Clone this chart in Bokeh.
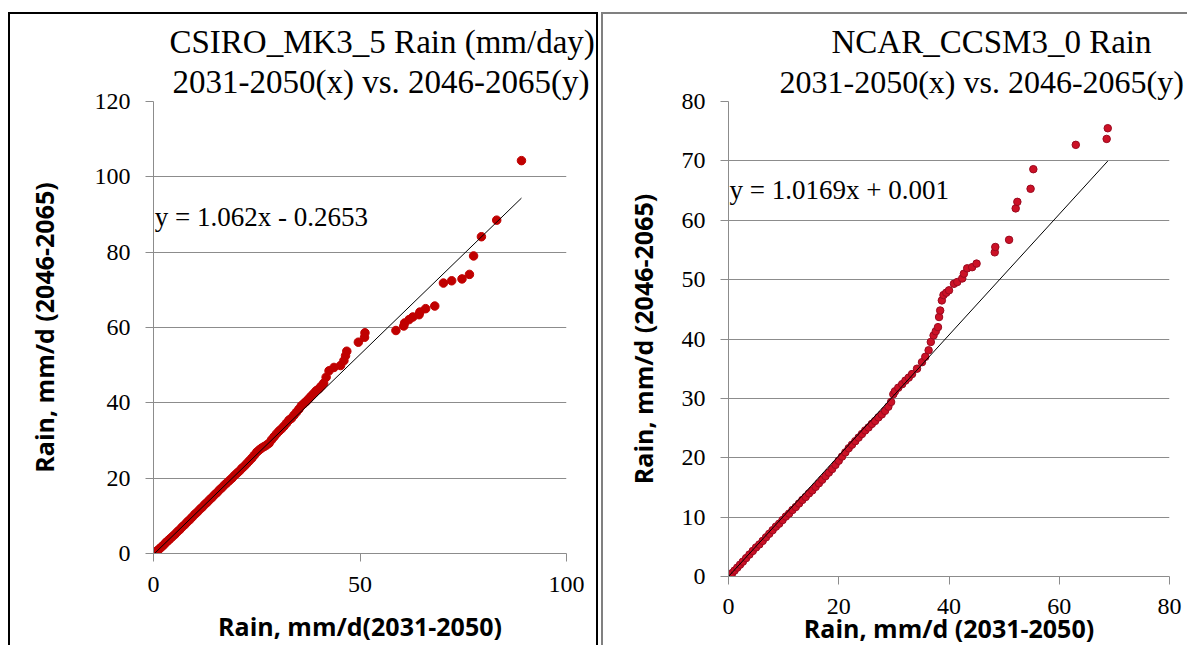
from bokeh.plotting import figure
from bokeh.layouts import row
from bokeh.models import Range1d, Label, Title, FixedTicker
from bokeh.embed import file_html
from bokeh.resources import INLINE

# --- CSIRO_MK3_5: sorted daily rain, 2031-2050 (x) vs 2046-2065 (y), mm/day ---
csiro_x = [0.0, 0.3, 0.6, 1.0, 1.5, 2.0, 2.5, 3.0, 3.5, 4.0, 4.6, 5.2, 5.8, 6.4, 7.0,
           7.6, 8.2, 8.8, 9.4, 10.0, 10.6, 11.2, 11.8, 12.4, 13.0, 13.6, 14.2, 14.8,
           15.4, 16.0, 16.6, 17.2, 17.8, 18.4, 19.0, 19.6, 20.2, 20.8, 21.4, 22.0,
           22.6, 23.2, 23.8, 24.4, 25.0, 25.6, 26.2, 26.8, 27.4, 28.0, 28.6, 29.2,
           29.8, 30.4, 31.0, 31.6, 32.2, 32.8, 33.4, 34.0, 34.6, 35.2, 35.8, 36.4,
           37.0, 37.6, 38.2, 38.8, 39.4, 40.0, 40.6, 41.2, 41.8, 42.5, 43.7, 45.3,
           46.1, 46.5, 46.8, 49.6, 51.1, 51.2, 58.7, 60.6, 60.8, 61.9, 62.8, 64.3,
           64.5, 65.9, 68.1, 70.2, 72.2, 74.7, 76.5, 77.5, 79.4, 83.1, 89.1]
csiro_y = [0.0, 0.2, 0.5, 0.8, 1.3, 1.8, 2.3, 2.9, 3.4, 3.9, 4.5, 5.1, 5.8, 6.4, 7.1,
           7.7, 8.4, 9.0, 9.7, 10.4, 11.0, 11.7, 12.3, 13.0, 13.6, 14.3, 14.9, 15.6,
           16.2, 16.9, 17.5, 18.2, 18.8, 19.4, 20.0, 20.7, 21.3, 21.9, 22.6, 23.2,
           23.9, 24.6, 25.3, 26.1, 26.9, 27.5, 28.0, 28.4, 28.8, 29.3, 30.2, 31.0,
           31.8, 32.5, 33.1, 33.8, 34.6, 35.4, 35.9, 36.7, 37.5, 38.3, 39.2, 39.8,
           40.4, 41.1, 41.8, 42.5, 43.2, 43.7, 44.4, 45.2, 46.8, 48.5, 49.4, 49.9,
           51.2, 52.5, 53.7, 56.1, 57.4, 58.6, 59.2, 60.4, 61.2, 62.1, 62.8, 63.4,
           64.1, 65.0, 65.7, 71.8, 72.4, 72.9, 74.1, 79.0, 84.1, 88.5, 104.3]
csiro_slope, csiro_icpt = 1.062, -0.2653

# --- NCAR_CCSM3_0: sorted daily rain, 2031-2050 (x) vs 2046-2065 (y), mm/day ---
ncar_x = [0.0, 0.3, 0.7, 1.1, 1.6, 2.1, 2.6, 3.2, 3.8, 4.4, 5.0, 5.6, 6.2, 6.8, 7.4,
          8.0, 8.6, 9.2, 9.8, 10.4, 11.0, 11.6, 12.2, 12.8, 13.4, 14.0, 14.6, 15.2,
          15.8, 16.4, 17.0, 17.6, 18.2, 18.8, 19.4, 20.0, 20.6, 21.2, 21.8, 22.4,
          23.0, 23.6, 24.2, 24.8, 25.4, 26.0, 26.6, 27.2, 27.8, 28.4, 29.0, 29.5,
          29.9, 30.2, 30.8, 31.5, 32.1, 32.7, 33.3, 34.2, 35.1, 35.7, 36.3, 36.7,
          37.2, 37.6, 38.0, 38.2, 38.4, 38.7, 39.0, 39.5, 40.0, 40.9, 41.5, 42.4,
          42.7, 43.3, 44.2, 45.0, 48.3, 48.4, 50.9, 52.1, 52.4, 54.8, 55.3, 63.0,
          68.6, 68.8]
ncar_y = [0.0, 0.3, 0.6, 1.0, 1.5, 2.0, 2.5, 3.1, 3.7, 4.3, 4.9, 5.4, 6.0, 6.6, 7.2,
          7.8, 8.4, 8.9, 9.5, 10.1, 10.6, 11.2, 11.7, 12.3, 12.9, 13.4, 14.0, 14.5,
          15.1, 15.7, 16.3, 16.9, 17.5, 18.1, 18.8, 19.5, 20.2, 20.9, 21.6, 22.2,
          22.8, 23.4, 24.0, 24.6, 25.1, 25.7, 26.2, 26.8, 27.3, 27.9, 28.6, 29.4,
          30.7, 31.2, 31.8, 32.4, 33.0, 33.5, 34.1, 35.0, 36.1, 37.0, 38.1, 39.5,
          40.6, 41.3, 42.0, 43.7, 44.8, 46.5, 47.4, 47.8, 48.2, 49.3, 49.6, 50.2,
          51.0, 51.9, 52.1, 52.7, 54.6, 55.5, 56.7, 62.0, 63.1, 65.3, 68.6, 72.7,
          73.7, 75.5]
ncar_slope, ncar_icpt = 1.0169, 0.001

SERIF = "Liberation Serif"
SANS = "Open Sans"
GRID = "#8c8c8c"


def panel(frame_w, frame_h, borders, xmax, ymax, xticks, yticks, xlabel, ylabel,
          tick_x_standoff, tick_y_standoff, xlab_standoff, ylab_standoff, margin, styles):
    left, right, top, bottom = borders
    p = figure(frame_width=frame_w, frame_height=frame_h,
               x_range=Range1d(0, xmax), y_range=Range1d(0, ymax),
               output_backend="svg", toolbar_location=None,
               min_border_left=left, min_border_right=right,
               min_border_top=top, min_border_bottom=bottom,
               margin=margin, styles=styles)
    p.outline_line_color = None
    p.background_fill_color = "white"
    p.border_fill_color = "white"
    p.xgrid.visible = False
    p.ygrid.grid_line_color = GRID
    p.ygrid.grid_line_width = 1
    for ax in (p.xaxis[0], p.yaxis[0]):
        ax.axis_line_color = GRID
        ax.major_tick_line_color = GRID
        ax.minor_tick_line_color = None
        ax.major_tick_in = 0
        ax.major_tick_out = 8
        ax.major_label_text_font = SERIF
        ax.major_label_text_font_size = "24px"
        ax.major_label_text_color = "black"
        ax.axis_label_text_font = SANS
        ax.axis_label_text_font_style = "bold"
        ax.axis_label_text_font_size = "25px"
        ax.axis_label_text_color = "black"
    p.xaxis[0].ticker = FixedTicker(ticks=xticks)
    p.yaxis[0].ticker = FixedTicker(ticks=yticks)
    p.xaxis[0].axis_label = xlabel
    p.yaxis[0].axis_label = ylabel
    p.xaxis[0].major_label_standoff = tick_x_standoff
    p.yaxis[0].major_label_standoff = tick_y_standoff
    p.xaxis[0].axis_label_standoff = xlab_standoff
    p.yaxis[0].axis_label_standoff = ylab_standoff
    return p


def set_titles(p, line1, line2, offset1, offset2, size1, size2):
    # the figure's own title sits outermost; the added one goes next to the frame
    p.title.text = line1
    p.title.align = "left"
    p.title.offset = offset1
    p.title.standoff = 0
    p.title.text_font = SERIF
    p.title.text_font_size = size1
    p.title.text_font_style = "normal"
    p.title.text_color = "black"
    p.add_layout(Title(text=line2, align="left", offset=offset2, standoff=4,
                       text_font=SERIF, text_font_size=size2,
                       text_font_style="normal", text_color="black"), "above")


# Left panel: CSIRO
p1 = panel(409, 450, (143, 34, 87, 94), 100, 120, [0, 50, 100], list(range(0, 121, 20)),
           "Rain, mm/d(2031-2050)", "Rain, mm/d (2046-2065)", 15, 15, 14, 31,
           (12, 0, 0, 8),
           {"border-top": "2px solid black", "border-left": "2px solid black",
            "border-right": "2px solid black"})
p1.scatter(csiro_x, csiro_y, size=8.5, color="#C00000")
cx = [0, max(csiro_x)]
p1.line(cx, [csiro_slope * v + csiro_icpt for v in cx], line_color="black", line_width=1)
set_titles(p1, "CSIRO_MK3_5 Rain (mm/day)", "2031-2050(x) vs. 2046-2065(y)",
           16, 19, "33px", "33px")
p1.add_layout(Label(x=0.3, y=89.3, text="y = 1.062x - 0.2653", text_align="left",
                    text_baseline="middle", text_font=SERIF, text_font_size="27px",
                    text_color="black"))

# Right panel: NCAR
p2 = panel(439, 473, (125, 20, 86, 72), 80, 80, list(range(0, 81, 20)), list(range(0, 81, 10)),
           "Rain, mm/d (2031-2050)", "Rain, mm/d (2046-2065)", 14, 15, -6, 19,
           (12, 0, 0, 3),
           {"border-top": "2px solid #808080", "border-left": "2px solid #808080"})
p2.scatter(ncar_x, ncar_y, size=7.5, fill_color="#CC1126", line_color="#9A0A20", line_width=1)
nx = [0, max(ncar_x)]
p2.line(nx, [ncar_slope * v + ncar_icpt for v in nx], line_color="black", line_width=1)
set_titles(p2, "NCAR_CCSM3_0 Rain", "2031-2050(x) vs. 2046-2065(y)",
           103, 51, "33px", "32px")
p2.add_layout(Label(x=0.2, y=65.1, text="y = 1.0169x + 0.001", text_align="left",
                    text_baseline="middle", text_font=SERIF, text_font_size="27px",
                    text_color="black"))

layout = row(p1, p2, spacing=0)
open("out.html", "w").write(file_html(layout, INLINE))
